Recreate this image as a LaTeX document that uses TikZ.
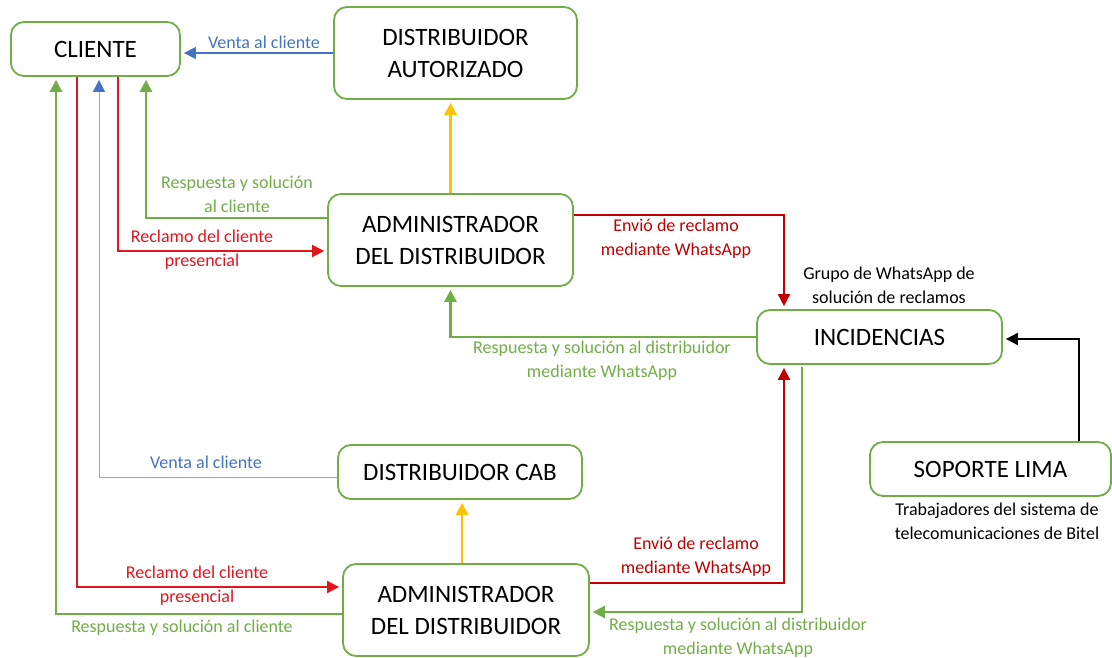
\documentclass[tikz,border=0pt]{standalone}
\usepackage{fontspec}
\setmainfont{Carlito}
\usetikzlibrary{arrows.meta}
\definecolor{grn}{HTML}{70AD47}
\definecolor{blu}{HTML}{4472C4}
\definecolor{lblu}{HTML}{8FA8D0}
\definecolor{rcl}{HTML}{E3141E}
\definecolor{env}{HTML}{C00000}
\definecolor{ylw}{HTML}{FFC000}

\begin{document}
\begin{tikzpicture}[x=1pt,y=-1pt,line width=.5pt,
  box/.style={draw=grn,line width=1.8pt,rounded corners=13pt,fill=white,align=center,inner sep=0pt,font=\fontsize{25}{32}\selectfont},
  lbl/.style={align=center,inner sep=0pt,font=\fontsize{18}{24}\selectfont},
  arr/.style={-{Triangle[length=12pt,width=12pt]},shorten >=3pt}]
\path[use as bounding box] (0,0) rectangle (1112,658);
\node[box,minimum width=169pt,minimum height=54pt] (cli) at (95.5,49) {CLIENTE};
\node[box,minimum width=243pt,minimum height=92pt] (dau) at (455.5,53) {DISTRIBUIDOR\\AUTORIZADO};
\node[box,minimum width=245pt,minimum height=92pt] (adm1) at (450.5,240) {ADMINISTRADOR\\DEL DISTRIBUIDOR};
\node[box,minimum width=245pt,minimum height=54pt] (inc) at (879.5,337) {INCIDENCIAS};
\node[box,minimum width=244pt,minimum height=54pt] (cab) at (460,472) {DISTRIBUIDOR CAB};
\node[box,minimum width=246pt,minimum height=92pt] (adm2) at (466,610) {ADMINISTRADOR\\DEL DISTRIBUIDOR};
\node[box,minimum width=241pt,minimum height=54pt] (sop) at (990.5,469) {SOPORTE LIMA};
\draw[arr,blu,line width=1.4pt] (dau.west) -- (dau.west -| cli.east);
\draw[arr,ylw,line width=2.5pt] (adm1.north) -- (adm1.north |- dau.south);
\draw[arr,ylw,line width=2.5pt] (adm2.north -| 462,0) -- (cab.south -| 462,0);
\draw[arr,grn,line width=2.8pt] (adm1.west |- 0,218) -| (cli.south -| 146,0);
\draw[arr,rcl,line width=2pt] (cli.south -| 118,0) |- (adm1.west |- 0,251);
\draw[arr,grn,line width=2.8pt] (adm2.west |- 0,614) -| (cli.south -| 56,0);
\draw[arr,rcl,line width=2pt] (cli.south -| 77,0) |- (adm2.west |- 0,587);
\draw[lblu,line width=1pt,-{Triangle[length=12pt,width=12pt,color=blu]},shorten >=3pt] (cab.west |- 0,477) -| (cli.south -| 99,0);
\draw[arr,env,line width=2pt] (adm1.east |- 0,215) -| (inc.north -| 784,0);
\draw[arr,grn,line width=2.8pt] (inc.west) -| (adm1.south);
\draw[arr,env,line width=2pt] (adm2.east |- 0,583) -| (inc.south -| 784,0);
\draw[arr,grn,line width=2.8pt] (802,367) |- (adm2.east |- 0,612);
\draw[arr,black,line width=2pt] (sop.north -| 1079,0) |- (inc.east |- 0,339);
\node[lbl,text=blu] (vta1) at (264,42) {Venta al cliente};
\node[lbl,text=grn] (rsp1) at (237,194) {Respuesta y solución\\al cliente};
\node[lbl,text=rcl] (rcl1) at (202,249.5) {Reclamo del cliente\\presencial};
\node[lbl,text=blu] (vta2) at (206,462) {Venta al cliente};
\node[lbl,text=rcl] (rcl2) at (197,586) {Reclamo del cliente\\presencial};
\node[lbl,text=grn] (rsp2) at (182,628) {Respuesta y solución al cliente};
\node[lbl,text=env] (env1) at (676,239) {Envió de reclamo\\mediante WhatsApp};
\node[lbl,text=grn] (rsd1) at (602,360.5) {Respuesta y solución al distribuidor\\mediante WhatsApp};
\node[lbl] (grp) at (889,285) {Grupo de WhatsApp de\\solución de reclamos};
\node[lbl,text=env] (env2) at (696,556.5) {Envió de reclamo\\mediante WhatsApp};
\node[lbl,text=grn] (rsd2) at (738,637.5) {Respuesta y solución al distribuidor\\mediante WhatsApp};
\node[lbl] (trb) at (997,521) {Trabajadores del sistema de\\telecomunicaciones de Bitel};
\end{tikzpicture}
\end{document}
